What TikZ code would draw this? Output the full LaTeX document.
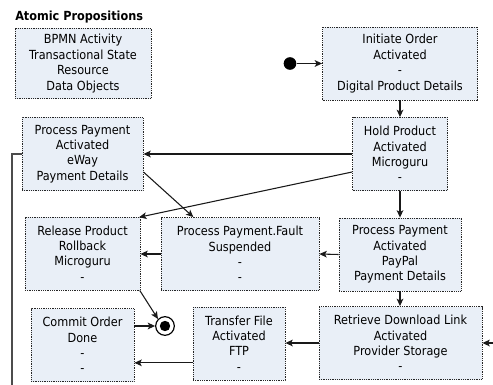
\documentclass[tikz,border=0pt]{standalone}
\usepackage{fontspec}
\setmainfont{DejaVu Sans Condensed}
\usetikzlibrary{arrows.meta,calc}
\definecolor{boxfill}{RGB}{233,239,247}
\begin{document}
\begin{tikzpicture}[x=0.75pt,y=-0.75pt,
  font=\fontsize{9.4}{11.6}\selectfont,
  box/.style={draw=black!85, fill=boxfill, dash pattern=on 0.75pt off 0.6pt, line width=0.65pt,
    align=center, inner sep=0pt, minimum height=54.75pt},
  arr/.style={draw=black!90, line width=0.8pt, -{Stealth[length=5.5pt,width=5pt,inset=1.3pt]}},
]
\useasboundingbox (0,0) rectangle (493,385);
\node[font=\fontsize{9.4}{11.6}\selectfont\bfseries, anchor=west, inner sep=0pt] (title) at (15,17) {Atomic Propositions};
\node[box, minimum width=102pt, minimum height=53pt] (ap) at (83,63.5) {BPMN Activity\\Transactional State\\Resource\\Data Objects};
\node[box, minimum width=116.25pt] (init) at (400,63.5) {Initiate Order\\Activated\\-\\Digital Product Details};
\node[box, minimum width=71.25pt] (hold) at (400,154) {Hold Product\\Activated\\Microguru\\-};
\node[box, minimum width=90.75pt] (eway) at (82.5,154) {Process Payment\\Activated\\eWay\\Payment Details};
\node[box, minimum width=86.25pt] (release) at (82.5,253.5) {Release Product\\Rollback\\Microguru\\-};
\node[box, minimum width=118.5pt] (fault) at (240,254) {Process Payment.Fault\\Suspended\\-\\-};
\node[box, minimum width=91.5pt] (paypal) at (400,254.5) {Process Payment\\Activated\\PayPal\\Payment Details};
\node[box, minimum width=77.25pt] (commit) at (82.5,345) {Commit Order\\Done\\-\\-};
\node[box, minimum width=69pt] (transfer) at (239,343.5) {Transfer File\\Activated\\FTP\\-};
\node[box, minimum width=122.25pt] (retrieve) at (400.5,343) {Retrieve Download Link\\Activated\\Provider Storage\\-};
\node[circle, fill=black, minimum size=9.5pt, inner sep=0pt] (start) at (290,63.5) {};
\node[circle, draw=black, fill=white, line width=0.9pt, minimum size=14pt, inner sep=0pt,
  path picture={\fill[black] (path picture bounding box.center) circle (3.9pt);}] (end) at (165,326) {};
\coordinate (leftend) at (12,385);
\coordinate (rightstart) at (493,343);

\draw[arr] (start) -- (init.west);
\draw[arr] (init.south) -- (hold.north);
\draw[arr] (hold.west) -- (eway.east);
\draw[arr] ([yshift=-13.5pt]hold.west) -- ([xshift=-1pt,yshift=-0.5pt]release.north east);
\draw[arr] ([yshift=-13.5pt]eway.east) -- ([xshift=-35pt]fault.north);
\draw[arr] (hold.south) -- (paypal.north);
\draw[arr] (paypal.west) -- (fault.west -| fault.east);
\draw[arr] (fault.west) -- (fault.west -| release.east);
\draw[arr] (paypal.south) -- (retrieve.north -| paypal.south);
\draw[arr] (retrieve.west) -- (retrieve.west -| transfer.east);
\draw[arr] ([yshift=-14.5pt]transfer.west) -- ([yshift=-14.5pt]transfer.west -| commit.east);
\draw[arr] (end.west -| commit.east) -- (end.west);
\draw[arr] ([xshift=-0.5pt]release.south east) -- (end.north west);
\draw[arr] (rightstart) -- (retrieve.east);
\draw[draw=black!70, line width=1.2pt] (eway.west) -| (leftend);
\end{tikzpicture}
\end{document}
